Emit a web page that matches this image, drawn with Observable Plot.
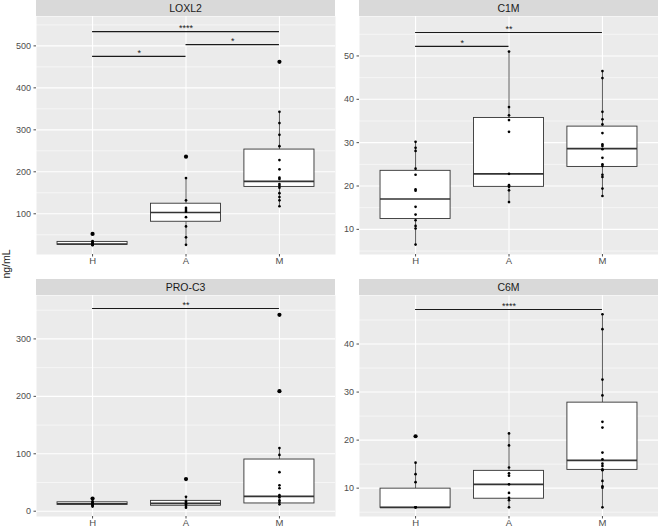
<!DOCTYPE html>
<html>
<head>
<meta charset="utf-8">
<script src="https://cdn.jsdelivr.net/npm/d3@7"></script>
<script src="https://cdn.jsdelivr.net/npm/@observablehq/plot@0.6"></script>
<style>
  html, body { margin: 0; padding: 0; background: #ffffff; }
  body { font-family: "Liberation Sans", Arial, Helvetica, sans-serif; }
  #wrap { position: relative; width: 658px; height: 528px; overflow: hidden; }
  .strip { position: absolute; background: #d9d9d9; color: #1a1a1a; font-size: 10.5px;
           text-align: center; height: 16px; line-height: 16px; }
  .panel { position: absolute; }
  .panel svg { background: transparent; max-width: none; overflow: visible; }
  #ylab { position: absolute; left: 6px; top: 264px; transform: translate(-50%, -50%) rotate(-90deg);
          font-size: 10.5px; color: #1a1a1a; white-space: nowrap; }
</style>
</head>
<body>
<div id="wrap"><div id="ylab">ng/mL</div></div>
<script>
// ---------- data ----------
const groups = ["H", "A", "M"];
const panelNames = ["LOXL2", "C1M", "PRO-C3", "C6M"];
const yLabel = "ng/mL";

// tick labels
const loxl2Ticks = [100, 200, 300, 400, 500];
const c1mTicks = [10, 20, 30, 40, 50];
const proc3Ticks = [0, 100, 200, 300];
const c6mTicks = [10, 20, 30, 40];

// points (per group)
const loxl2_H = [35, 33, 31, 29, 28, 27, 26, 25];
const loxl2_A = [185, 132, 114, 109, 105, 92, 70, 44, 26];
const loxl2_M = [343, 316, 288, 261, 228, 206, 186, 183, 171, 167, 162, 149, 140, 132, 118];
const loxl2_out = [["H", 52], ["A", 236], ["M", 462]];

const c1m_H = [30.2, 28.8, 28.1, 24.0, 22.6, 19.2, 18.9, 15.2, 13.4, 12.1, 10.8, 10.2, 6.5];
const c1m_A = [51.0, 38.2, 36.3, 35.2, 32.5, 22.8, 20.2, 19.8, 19.0, 16.3];
const c1m_M = [46.5, 44.9, 37.1, 35.4, 34.2, 32.2, 29.6, 29.2, 28.5, 26.5, 25.0, 24.6, 22.6, 22.1, 19.4, 17.7];
const c1m_out = [];

const proc3_H = [17, 15, 14, 13, 12, 11, 10, 8];
const proc3_A = [25, 17, 14.5, 12, 9, 6];
const proc3_M = [110, 98, 68, 45, 40, 28, 24, 19, 16, 12];
const proc3_out = [["H", 22], ["A", 56], ["M", 342], ["M", 209]];

const c6m_H = [15.3, 12.9, 11.25, 6.0, 6.0, 6.0];
const c6m_A = [21.4, 18.9, 14.3, 13.1, 12.6, 10.8, 9.0, 8.0, 7.5, 6.0];
const c6m_M = [46.2, 43.1, 32.6, 29.3, 23.8, 22.6, 17.4, 16.0, 15.1, 14.6, 13.9, 13.75, 11.5, 10.4, 10.1, 6.0];
const c6m_out = [["H", 20.8]];

// box statistics per group H, A, M: [lower whisker, q1, median, q3, upper whisker]
const loxl2Box = [[24, 26, 28, 33, 36], [26, 81, 103, 124, 185], [118, 164, 177, 253, 343]];
const c1mBox = [[6.5, 12.4, 17.0, 23.5, 30.2], [16.3, 19.8, 22.8, 35.7, 51.0], [17.7, 24.4, 28.6, 33.7, 46.5]];
const proc3Box = [[8, 11, 13, 15.5, 18], [6, 9.5, 13.5, 18, 25], [12, 13.5, 26, 90, 110]];
const c6mBox = [[6.0, 5.9, 6.0, 9.9, 15.3], [6.0, 7.8, 10.8, 13.6, 21.4], [6.0, 13.8, 15.8, 27.8, 46.2]];

// significance brackets: [from, to, y, label]
const loxl2Sig = [["H", "M", 534, "****"], ["H", "A", 475, "*"], ["A", "M", 503, "*"]];
const c1mSig = [["H", "M", 55.4, "**"], ["H", "A", 52.2, "*"]];
const proc3Sig = [["H", "M", 353, "**"]];
const c6mSig = [["H", "M", 47.2, "****"]];

// y ranges of each panel (as shown)
const loxl2Domain = [3, 570];
const c1mDomain = [4.2, 59.1];
const proc3Domain = [-9.2, 375.6];
const c6mDomain = [4.1, 50.1];

// ---------- layout ----------
const panels = [
  {name: panelNames[0], pts: [loxl2_H, loxl2_A, loxl2_M], out: loxl2_out, box: loxl2Box, sig: loxl2Sig, ticks: loxl2Ticks, domain: loxl2Domain, left: 36, top: 16, h: 238},
  {name: panelNames[1], pts: [c1m_H, c1m_A, c1m_M], out: c1m_out, box: c1mBox, sig: c1mSig, ticks: c1mTicks, domain: c1mDomain, left: 359, top: 16, h: 238},
  {name: panelNames[2], pts: [proc3_H, proc3_A, proc3_M], out: proc3_out, box: proc3Box, sig: proc3Sig, ticks: proc3Ticks, domain: proc3Domain, left: 36, top: 295, h: 221},
  {name: panelNames[3], pts: [c6m_H, c6m_A, c6m_M], out: c6m_out, box: c6mBox, sig: c6mSig, ticks: c6mTicks, domain: c6mDomain, left: 359, top: 295, h: 221}
];
const PW = 299, ML = 36, MB = 12;
const pos = g => groups.indexOf(g) + 1;
const HW = 0.375;

document.getElementById("ylab").textContent = yLabel;
const wrap = document.getElementById("wrap");

for (const p of panels) {
  const strip = document.createElement("div");
  strip.className = "strip";
  strip.style.left = p.left + "px";
  strip.style.top = (p.top - 16) + "px";
  strip.style.width = PW + "px";
  strip.textContent = p.name;
  wrap.appendChild(strip);

  const points = [];
  p.pts.forEach((arr, i) => arr.forEach(v => points.push({g: groups[i], v})));
  const outliers = p.out.map(([g, v]) => ({g, v}));
  const boxes = p.box.map((b, i) => ({g: groups[i], lo: b[0], q1: b[1], med: b[2], q3: b[3], hi: b[4]}));
  const sig = p.sig.map(([a, b, y, label]) => ({a, b, y, label}));

  // grid lines: majors at ticks, minors half way (and extended within the range)
  const step = p.ticks[1] - p.ticks[0];
  const minors = [];
  for (let v = p.ticks[0] - step / 2; v <= p.domain[1]; v += step) if (v >= p.domain[0]) minors.push(v);

  const chart = Plot.plot({
    width: PW + ML,
    height: p.h + MB,
    marginLeft: ML, marginRight: 0, marginTop: 0, marginBottom: MB,
    style: {background: "transparent", fontFamily: "Liberation Sans, Arial, sans-serif", overflow: "visible"},
    x: {type: "linear", domain: [0.4, 3.6], axis: null},
    y: {type: "linear", domain: p.domain, axis: null},
    marks: [
      Plot.frame({fill: "#ebebeb", stroke: null}),
      Plot.ruleY(minors, {stroke: "#ffffff", strokeWidth: 0.55}),
      Plot.ruleY(p.ticks.filter(t => t >= p.domain[0] && t <= p.domain[1]), {stroke: "#ffffff", strokeWidth: 1.1}),
      Plot.ruleX([1, 2, 3], {stroke: "#ffffff", strokeWidth: 1.1}),
      Plot.axisY(p.ticks, {tickSize: 2.5, tickPadding: 3, fontSize: 9, color: "#4d4d4d", label: null}),
      Plot.axisX([1, 2, 3], {tickFormat: i => groups[i - 1], tickSize: 2.5, tickPadding: 0, fontSize: 9.5, color: "#4d4d4d", label: null}),
      // whiskers
      Plot.ruleX(boxes, {x: d => pos(d.g), y1: "lo", y2: "q1", stroke: "#333333", strokeWidth: 0.8}),
      Plot.ruleX(boxes, {x: d => pos(d.g), y1: "q3", y2: "hi", stroke: "#333333", strokeWidth: 0.8}),
      // boxes
      Plot.rect(boxes, {x1: d => pos(d.g) - HW, x2: d => pos(d.g) + HW, y1: "q1", y2: "q3", fill: "#ffffff", stroke: "#333333", strokeWidth: 0.9}),
      Plot.ruleY(boxes, {x1: d => pos(d.g) - HW, x2: d => pos(d.g) + HW, y: "med", stroke: "#333333", strokeWidth: 1.7}),
      // outliers and points
      Plot.dot(outliers, {x: d => pos(d.g), y: "v", r: 2.1, fill: "#000000", stroke: null}),
      Plot.dot(points, {x: d => pos(d.g), y: "v", r: 1.35, fill: "#000000", stroke: null}),
      // significance brackets
      Plot.ruleY(sig, {x1: d => pos(d.a), x2: d => pos(d.b), y: "y", stroke: "#1a1a1a", strokeWidth: 1.1}),
      Plot.text(sig, {x: d => (pos(d.a) + pos(d.b)) / 2, y: "y", text: "label", lineAnchor: "bottom", dy: -0.5, fontSize: 9, fill: "#1a1a1a"})
    ]
  });
  const holder = document.createElement("div");
  holder.className = "panel";
  holder.style.left = (p.left - ML) + "px";
  holder.style.top = p.top + "px";
  holder.appendChild(chart);
  wrap.appendChild(holder);
}
</script>
</body>
</html>
